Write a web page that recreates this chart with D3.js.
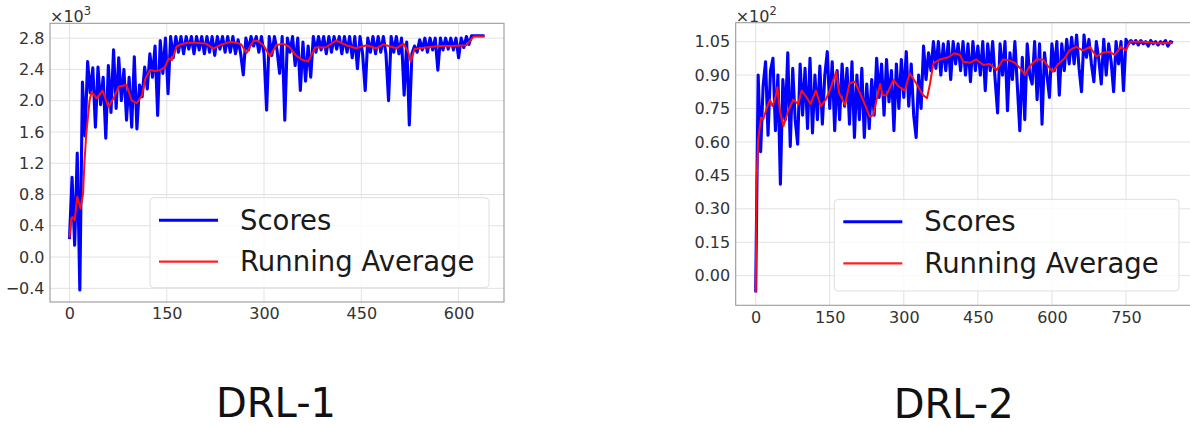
<!DOCTYPE html>
<html>
<head>
<meta charset="utf-8">
<script src="https://cdn.jsdelivr.net/npm/d3@7"></script>
<style>
body { margin: 0; background: #fff; }
svg { display: block; font-family: "DejaVu Sans", sans-serif; }
.tick text { fill: #333; font-size: 16px; font-family: "DejaVu Sans", sans-serif; }
.grid line { stroke: #e2e2e2; stroke-width: 1; }
</style>
</head>
<body>
<svg id="chart" width="1190" height="425"></svg>
<script>
// ---- DRL-1 (values x10^3) ----
// scores: one reading every 4 episodes, starting at episode 0
var scoreStep1 = 4;
var scores1 = [
  0.23,1.02,0.15,1.33,-0.42,2.24,1.55,2.5,2.1,2.42,
  1.66,2.43,1.95,2.3,1.52,2.45,1.85,2.65,1.9,2.55,
  2.0,2.4,1.75,2.3,1.66,2.56,1.64,2.2,2.05,2.43,
  2.15,2.6,2.3,2.7,1.81,2.77,2.35,2.8,2.09,2.82,
  2.55,2.82,2.62,2.82,2.6,2.82,2.66,2.82,2.6,2.82,
  2.65,2.82,2.6,2.82,2.62,2.82,2.58,2.82,2.66,2.82,
  2.62,2.82,2.62,2.82,2.6,2.78,2.6,2.33,2.8,2.65,
  2.82,2.7,2.82,2.62,2.82,2.6,1.88,2.82,2.58,2.82,
  2.65,2.35,2.82,1.75,2.8,2.62,2.82,2.45,2.8,2.13,
  2.75,2.25,2.7,2.3,2.82,2.62,2.82,2.65,2.82,2.6,
  2.82,2.62,2.82,2.66,2.82,2.6,2.82,2.62,2.82,2.55,
  2.82,2.41,2.82,2.6,2.13,2.8,2.62,2.82,2.6,2.82,
  2.62,2.82,2.6,2.0,2.82,2.62,2.82,2.6,2.8,2.07,
  2.75,1.69,2.6,2.7,2.62,2.78,2.65,2.8,2.62,2.8,
  2.65,2.8,2.39,2.8,2.65,2.8,2.66,2.8,2.65,2.8,
  2.55,2.8,2.68,2.82,2.72,2.83,2.83,2.83,2.83,2.83,
  2.83
];
var avgEp1 = [0,3,5,8,12,17,21,23,26,31,34,42,51,60,68,76,88,96,104,112,
  117,124,132,140,147,153,158,165,172,181,195,210,222,235,248,258,265,273,284,291,
  299,309,319,329,339,349,360,368,379,395,411,427,442,458,473,484,504,515,522,526,
  532,550,571,591,612,623,640];
var avg1 = [0.25,0.5,0.51,0.47,0.77,0.62,0.81,1.2,1.58,2.0,2.11,2.03,2.13,1.92,2.03,2.18,2.2,2.0,1.97,2.07,
  2.28,2.39,2.38,2.39,2.43,2.54,2.52,2.69,2.72,2.74,2.74,2.73,2.67,2.72,2.75,2.74,2.72,2.61,2.77,2.76,
  2.71,2.57,2.71,2.73,2.69,2.58,2.52,2.5,2.68,2.68,2.77,2.71,2.67,2.71,2.67,2.72,2.67,2.73,2.63,2.5,
  2.66,2.68,2.7,2.7,2.71,2.82,2.82];
var xTicks1 = [0, 150, 300, 450, 600];
var yTicks1 = [-0.4, 0.0, 0.4, 0.8, 1.2, 1.6, 2.0, 2.4, 2.8];

// ---- DRL-2 (values x10^2) ----
// scores: one reading every 5 episodes, starting at episode 0
var scoreStep2 = 5;
var scores2 = [
  -0.075,0.9,0.556,0.85,0.96,0.63,0.92,0.975,0.65,0.9,
  0.41,0.88,0.7,1.0,0.58,0.93,0.7,0.59,0.95,0.72,
  0.93,0.66,0.975,0.64,0.9,0.7,0.94,0.68,0.9,1.005,
  0.75,0.96,0.65,0.92,0.7,0.95,0.76,0.93,0.68,0.96,
  0.62,0.9,0.7,0.93,0.62,0.86,0.66,0.88,0.72,0.975,
  0.8,0.95,0.72,0.97,0.78,0.92,0.65,0.95,0.75,0.97,
  0.8,1.005,0.76,0.95,0.72,0.62,0.9,0.75,1.03,0.88,
  1.0,0.92,1.05,0.93,1.05,0.9,1.04,0.92,1.05,0.88,
  1.05,0.95,1.04,0.92,1.05,0.9,1.04,0.87,1.05,0.92,
  1.03,0.9,1.05,0.83,1.04,0.92,1.05,0.88,0.73,1.04,
  0.9,1.05,0.74,1.0,0.88,1.05,0.85,0.65,0.98,0.7,
  1.04,0.9,0.86,1.05,0.79,1.04,0.68,1.0,0.9,0.8,
  1.04,0.92,1.05,0.81,1.04,0.92,1.06,0.95,1.07,0.95,
  1.08,0.93,0.825,1.08,0.98,1.06,0.95,0.87,1.05,0.97,
  0.86,1.06,0.9,1.04,0.96,0.825,1.05,0.95,1.05,0.83,
  1.06,1.04,1.055,1.04,1.055,1.035,1.055,1.04,1.05,1.03,
  1.055,1.04,1.05,1.035,1.05,1.04,1.055,1.03,1.05,1.045
];
var avgEp2 = [0,2,5,11,15,22,29,34,40,44,49,56,66,76,86,93,103,111,122,132,
  142,150,163,169,181,190,201,211,221,231,238,252,257,265,279,289,302,312,326,339,
  347,353,360,373,390,403,414,420,434,447,461,474,488,501,515,525,539,545,555,569,
  582,592,602,613,626,636,650,663,677,690,703,717,727,740,750,758,785,812,844];
var avg2 = [-0.075,0.43,0.61,0.71,0.7,0.75,0.79,0.76,0.8,0.845,0.74,0.67,0.74,0.79,0.77,0.83,0.8,0.77,0.83,0.76,
  0.79,0.83,0.915,0.82,0.766,0.863,0.87,0.82,0.77,0.713,0.72,0.86,0.81,0.81,0.878,0.85,0.83,0.908,0.86,0.81,
  0.796,0.86,0.953,0.97,0.98,0.998,0.99,0.96,0.955,0.97,0.945,0.95,0.923,0.97,0.965,0.955,0.923,0.9,0.94,0.97,
  0.97,0.94,0.915,0.95,0.975,1.012,1.027,1.01,1.027,0.983,1.0,1.005,0.99,1.027,1.01,1.05,1.05,1.043,1.045];
var xTicks2 = [0, 150, 300, 450, 600, 750];
var yTicks2 = [0.00, 0.15, 0.30, 0.45, 0.60, 0.75, 0.90, 1.05];

var legendLabels = ["Scores", "Running Average"];
var captions = ["DRL-1", "DRL-2"];

var svg = d3.select("#chart");
var minus = function(s) { return s.replace("-", "\u2212"); };

function panel(o) {
  var x = d3.scaleLinear().domain(o.xDomain).range([o.left, o.right]);
  var y = d3.scaleLinear().domain(o.yDomain).range([o.bottom, o.top]);
  var g = svg.append("g");
  var w = o.right - o.left, h = o.bottom - o.top;

  g.append("clipPath").attr("id", o.id + "-clip")
    .append("rect").attr("x", o.left).attr("y", o.top).attr("width", w).attr("height", h);

  // grid
  var grid = g.append("g").attr("class", "grid").attr("clip-path", "url(#" + o.id + "-clip)");
  grid.selectAll("line.gx").data(o.xTicks).join("line").attr("class", "gx")
    .attr("x1", function(d) { return x(d); }).attr("x2", function(d) { return x(d); })
    .attr("y1", o.top).attr("y2", o.bottom);
  grid.selectAll("line.gy").data(o.yTicks).join("line").attr("class", "gy")
    .attr("x1", o.left).attr("x2", o.right)
    .attr("y1", function(d) { return y(d); }).attr("y2", function(d) { return y(d); });

  // axes (matplotlib look: no tick marks)
  g.append("g").attr("transform", "translate(0," + o.bottom + ")")
    .call(d3.axisBottom(x).tickValues(o.xTicks).tickSize(0).tickPadding(6))
    .call(function(a) { a.select(".domain").remove(); });
  g.append("g").attr("transform", "translate(" + o.left + ",0)")
    .call(d3.axisLeft(y).tickValues(o.yTicks).tickSize(0).tickPadding(5.5)
      .tickFormat(function(d) { return minus(d3.format(o.yFmt)(d)); }))
    .call(function(a) { a.select(".domain").remove(); });

  // data
  var plot = g.append("g").attr("clip-path", "url(#" + o.id + "-clip)");
  var line = d3.line().x(function(d) { return x(d[0]); }).y(function(d) { return y(d[1]); });
  var scorePts = o.scores.map(function(v, i) { return [i * o.step, v]; });
  var avgPts = o.avgEp.map(function(e, i) { return [e, o.avg[i]]; });
  plot.append("path").datum(scorePts).attr("d", line)
    .attr("fill", "none").attr("stroke", "#0000ff").attr("stroke-width", 3.1)
    .attr("stroke-linejoin", "round");
  plot.append("path").datum(avgPts).attr("d", line)
    .attr("fill", "none").attr("stroke", "#ff1010").attr("stroke-width", 2)
    .attr("stroke-linejoin", "round");

  // frame
  g.append("rect").attr("x", o.left).attr("y", o.top).attr("width", w).attr("height", h)
    .attr("fill", "none").attr("stroke", "#9a9a9a").attr("stroke-width", 1.1);

  // offset text
  var off = g.append("text").attr("x", o.left).attr("y", 21.7)
    .attr("font-size", 16).attr("fill", "#333").text("\u00d710");
  off.append("tspan").attr("dy", -7).attr("font-size", 11.5).text(o.exp);

  // legend
  var lb = o.legend;
  var leg = g.append("g");
  leg.append("rect").attr("x", lb.x).attr("y", lb.y).attr("width", lb.w).attr("height", lb.h)
    .attr("rx", 4).attr("fill", "rgba(255,255,255,0.8)").attr("stroke", "#dedede");
  var rows = [{c: "#0000ff", sw: 3}, {c: "#ff2020", sw: 2.2}];
  rows.forEach(function(r, i) {
    var cy = lb.y + 22.5 + i * 41.5;
    leg.append("line").attr("x1", lb.x + 9).attr("x2", lb.x + 68)
      .attr("y1", cy).attr("y2", cy).attr("stroke", r.c).attr("stroke-width", r.sw);
    leg.append("text").attr("x", lb.x + 90).attr("y", cy + 9.5)
      .attr("font-size", 27.5).attr("fill", "#1a1a1a").text(legendLabels[i]);
  });

  // caption
  svg.append("text").attr("x", o.capX).attr("y", o.capY).attr("text-anchor", "middle")
    .attr("font-size", 40).attr("fill", "#111").text(o.caption);
}

panel({
  id: "p1", left: 50, right: 504, top: 23.3, bottom: 302,
  xDomain: [-30, 670], yDomain: [-0.575, 2.99],
  xTicks: xTicks1, yTicks: yTicks1, yFmt: ".1f", exp: "3",
  scores: scores1, step: scoreStep1, avgEp: avgEp1, avg: avg1,
  legend: {x: 150, y: 197.7, w: 339, h: 90},
  caption: captions[0], capX: 276, capY: 417
});
panel({
  id: "p2", left: 735.7, right: 1193.6, top: 22.7, bottom: 305.3,
  xDomain: [-40.5, 887], yDomain: [-0.133, 1.135],
  xTicks: xTicks2, yTicks: yTicks2, yFmt: ".2f", exp: "2",
  scores: scores2, step: scoreStep2, avgEp: avgEp2, avg: avg2,
  legend: {x: 834.3, y: 199.3, w: 344.7, h: 91.7},
  caption: captions[1], capX: 953.7, capY: 418
});
</script>
</body>
</html>
